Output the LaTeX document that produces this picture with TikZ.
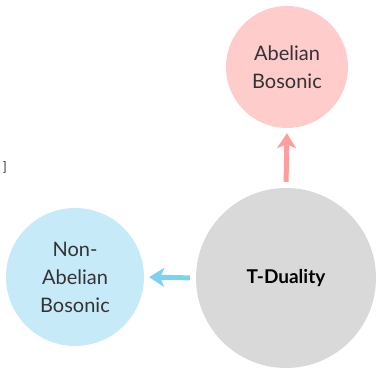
\documentclass[tikz,border=0pt]{standalone}
\usepackage{fontspec}
\setmainfont{Lato}
\usetikzlibrary{arrows.meta}
\definecolor{txt}{HTML}{333333}
\definecolor{pinkfill}{HTML}{FFCCCC}
\definecolor{pinkarrow}{HTML}{FF9E9E}
\definecolor{bluefill}{HTML}{C7EAF9}
\definecolor{bluearrow}{HTML}{7ED2F1}
\definecolor{grayfill}{HTML}{D9D9D9}
\tikzset{
  bubble/.style={circle, inner sep=0pt, text=txt, align=center,
    font=\fontsize{20}{28}\selectfont},
  conn/.style={line width=5pt, -{Stealth[length=15pt,width=19pt,inset=4pt]}}
}
\begin{document}
\begin{tikzpicture}[x=1pt,y=1pt]
\useasboundingbox (0,0) rectangle (376,369);
\node[bubble, fill=grayfill, minimum size=180pt, text=black, font=\fontsize{19}{26}\selectfont\bfseries] (td) at (286,91) {T-Duality};
\node[bubble, fill=pinkfill, minimum size=122pt] (ab) at (287,302) {Abelian\\Bosonic};
\node[bubble, fill=bluefill, minimum size=138pt] (nab) at (75,92) {Non-\\Abelian\\Bosonic};
\draw[conn, draw=pinkarrow, shorten <=6pt, shorten >=5pt] (td.north) -- (ab.south);
\draw[conn, draw=bluearrow, shorten <=6pt, shorten >=5pt] (td.west) -- (nab.east);
\node[anchor=base east, inner sep=0pt, text=txt, font=\fontsize{13}{15}\selectfont] (br) at (7,197) {]};
\end{tikzpicture}
\end{document}
